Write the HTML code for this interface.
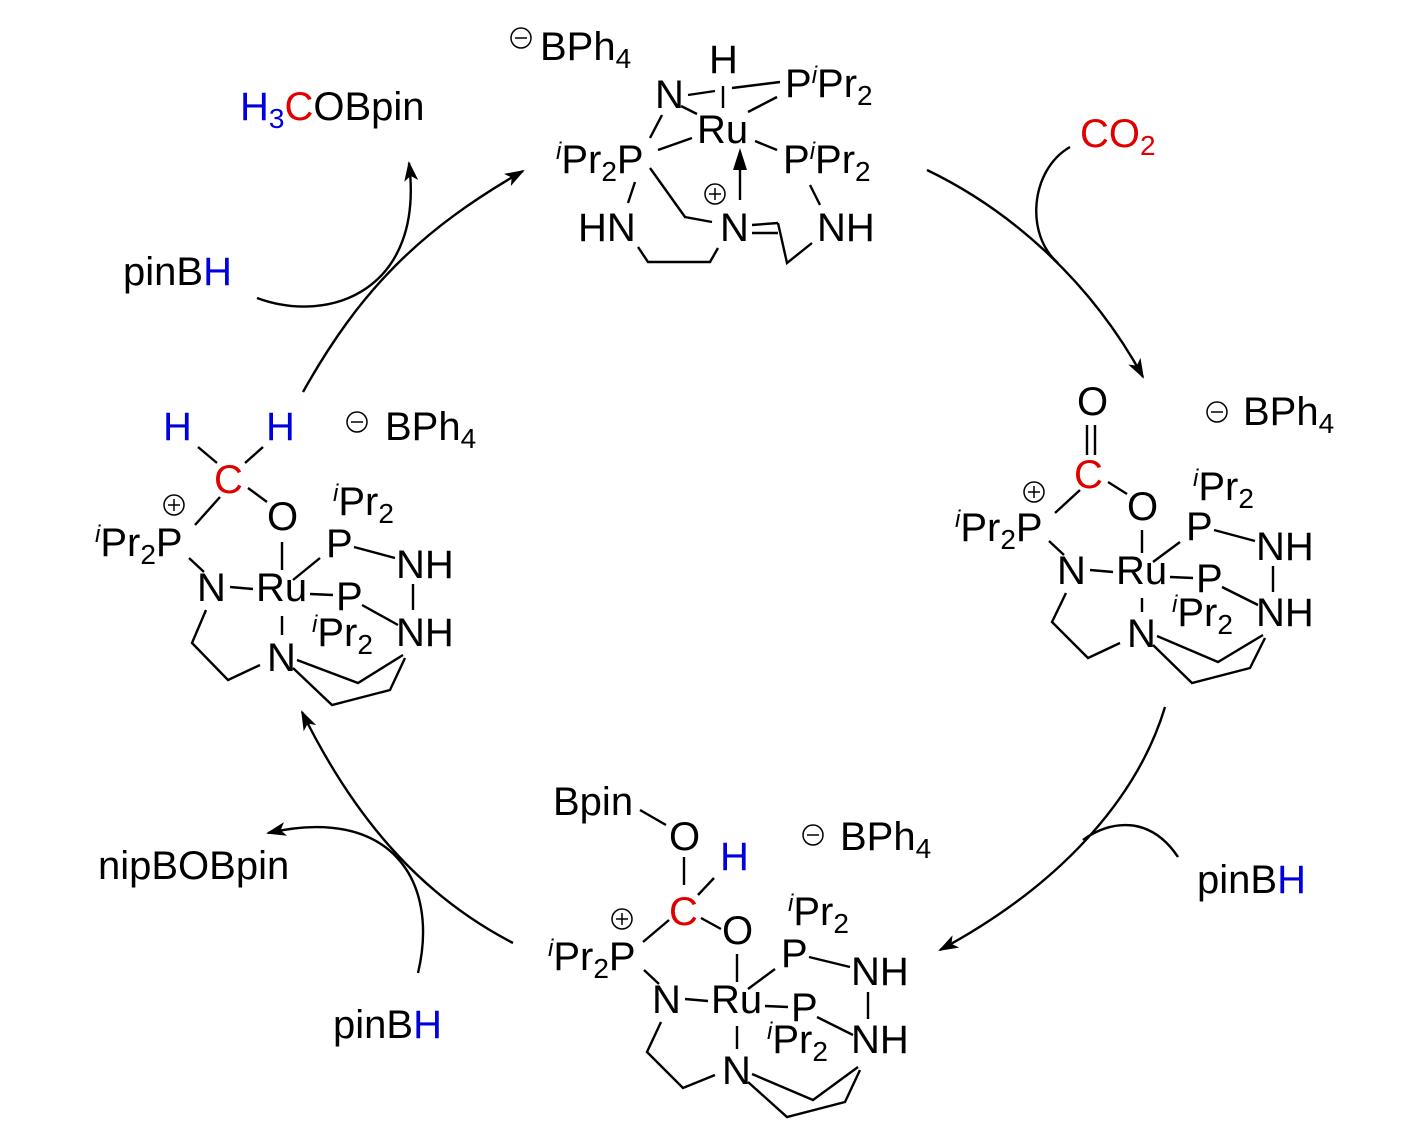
<!DOCTYPE html>
<html><head><meta charset="utf-8"><style>
html,body{margin:0;padding:0;background:#fff;}
svg{display:block;}
text{font-family:"Liberation Sans",Arial,sans-serif;font-size:40px;fill:#000;}
.s{font-size:28px;}
.i{font-size:24px;font-style:italic;}
.r{fill:#e00000;}
.b{fill:#0000dd;}
</style></head><body>
<svg width="1417" height="1134" viewBox="0 0 1417 1134" xmlns="http://www.w3.org/2000/svg">
<defs>
<marker id="ah" viewBox="0 0 20 14" refX="18" refY="7" markerWidth="20" markerHeight="14" markerUnits="userSpaceOnUse" orient="auto">
<path d="M0,0 L20,7 L0,14 L5,7 Z" fill="#000"/>
</marker>
</defs>
<g fill="none" stroke="#000" stroke-width="2.4">
<path d="M927,170 C1010,210 1090,280 1143,377" marker-end="url(#ah)"/>
<path d="M1070,147 C1030,170 1025,235 1058,263"/>
<path d="M1165,707 C1140,790 1070,880 940,950" marker-end="url(#ah)"/>
<path d="M1178,857 C1150,815 1110,820 1083,840"/>
<path d="M513,943 C430,900 360,830 302,712" marker-end="url(#ah)"/>
<path d="M418,973 C440,880 390,805 268,833" marker-end="url(#ah)"/>
<path d="M303,392 C360,290 420,230 523,171" marker-end="url(#ah)"/>
<path d="M257,298 C330,325 425,290 409,163" marker-end="url(#ah)"/>
</g>

<text x="1080" y="147" class="r">CO<tspan class="s r" dy="8">2</tspan></text>
<text x="1197" y="893">pinB<tspan class="b">H</tspan></text>
<text x="333" y="1038">pinB<tspan class="b">H</tspan></text>
<text x="98" y="879">nipBOBpin</text>
<text x="123" y="285">pinB<tspan class="b">H</tspan></text>
<text x="240" y="120"><tspan class="b">H</tspan><tspan class="s b" dy="8">3</tspan><tspan class="r" dy="-8">C</tspan>OBpin</text>

<!-- TOP COMPLEX -->
<circle cx="521" cy="38" r="10" fill="none" stroke="#000" stroke-width="1.5"/>
<line x1="515" y1="38" x2="527" y2="38" stroke="#000" stroke-width="1.5"/>
<text x="540" y="60">BPh<tspan class="s" dy="8">4</tspan></text>
<text x="709" y="73">H</text>
<text x="655" y="108">N</text>
<text x="785" y="97">P<tspan class="i" dy="-14">i</tspan><tspan dy="14">Pr</tspan><tspan class="s" dy="8">2</tspan></text>
<text x="697" y="143">Ru</text>
<text x="556" y="173"><tspan class="i" dy="-14">i</tspan><tspan dy="14">Pr</tspan><tspan class="s" dy="8">2</tspan><tspan dy="-8">P</tspan></text>
<text x="783" y="173">P<tspan class="i" dy="-14">i</tspan><tspan dy="14">Pr</tspan><tspan class="s" dy="8">2</tspan></text>
<text x="578" y="241">HN</text>
<text x="720" y="241">N</text>
<text x="817" y="241">NH</text>
<circle cx="715" cy="194" r="10" fill="none" stroke="#000" stroke-width="1.5"/>
<line x1="709" y1="194" x2="721" y2="194" stroke="#000" stroke-width="1.5"/>
<line x1="715" y1="188" x2="715" y2="200" stroke="#000" stroke-width="1.5"/>
<g fill="none" stroke="#000" stroke-width="2.4">
<line x1="688" y1="95" x2="715" y2="91"/>
<line x1="723" y1="86" x2="723" y2="108"/>
<line x1="732" y1="88" x2="780" y2="82"/>
<line x1="681" y1="106" x2="697" y2="114"/>
<line x1="748" y1="112" x2="777" y2="97"/>
<line x1="662" y1="115" x2="650" y2="138"/>
<line x1="658" y1="150" x2="692" y2="138"/>
<line x1="755" y1="141" x2="777" y2="150"/>
<line x1="635" y1="182" x2="628" y2="203"/>
<polyline points="650,168 685,217 712,222"/>
<line x1="740" y1="200" x2="740" y2="165"/>
<line x1="810" y1="185" x2="820" y2="205"/>
<polyline points="638,247 648,262 710,262 718,248"/>
<line x1="752" y1="225" x2="778" y2="223"/>
<line x1="752" y1="233" x2="778" y2="233"/>
<polyline points="778,223 787,263 812,243"/>
</g>
<path d="M740,148 L747,170 L733,170 Z" fill="#000"/>

<!-- RIGHT COMPLEX -->
<circle cx="1217" cy="412" r="10" fill="none" stroke="#000" stroke-width="1.5"/>
<line x1="1211" y1="412" x2="1223" y2="412" stroke="#000" stroke-width="1.5"/>
<text x="1243" y="425">BPh<tspan class="s" dy="8">4</tspan></text>
<text x="1077" y="415">O</text>
<g stroke="#000" stroke-width="2.4">
<line x1="1087" y1="425" x2="1087" y2="455"/>
<line x1="1095" y1="425" x2="1095" y2="455"/>
</g>
<text x="1074" y="488" class="r">C</text>
<circle cx="1034" cy="492" r="10" fill="none" stroke="#000" stroke-width="1.5"/>
<line x1="1028" y1="492" x2="1040" y2="492" stroke="#000" stroke-width="1.5"/>
<line x1="1034" y1="486" x2="1034" y2="498" stroke="#000" stroke-width="1.5"/>
<text x="955" y="541"><tspan class="i" dy="-14">i</tspan><tspan dy="14">Pr</tspan><tspan class="s" dy="8">2</tspan><tspan dy="-8">P</tspan></text>
<text x="1127" y="520">O</text>
<text x="1193" y="500"><tspan class="i" dy="-14">i</tspan><tspan dy="14">Pr</tspan><tspan class="s" dy="8">2</tspan></text>
<text x="1186" y="540">P</text>
<text x="1256" y="560">NH</text>
<text x="1057" y="584">N</text>
<text x="1116" y="584">Ru</text>
<text x="1196" y="592">P</text>
<text x="1172" y="626"><tspan class="i" dy="-14">i</tspan><tspan dy="14">Pr</tspan><tspan class="s" dy="8">2</tspan></text>
<text x="1256" y="626">NH</text>
<text x="1127" y="647">N</text>
<g fill="none" stroke="#000" stroke-width="2.4">
<line x1="1055" y1="513" x2="1080" y2="490"/>
<line x1="1108" y1="482" x2="1127" y2="494"/>
<line x1="1142" y1="530" x2="1142" y2="553"/>
<line x1="1049" y1="541" x2="1064" y2="555"/>
<line x1="1090" y1="570" x2="1113" y2="572"/>
<line x1="1153" y1="562" x2="1180" y2="542"/>
<line x1="1214" y1="530" x2="1255" y2="541"/>
<line x1="1273" y1="566" x2="1273" y2="592"/>
<line x1="1170" y1="577" x2="1193" y2="578"/>
<line x1="1222" y1="587" x2="1258" y2="605"/>
<line x1="1142" y1="598" x2="1142" y2="612"/>
<polyline points="1066,593 1052,622 1088,658 1120,643"/>
<polyline points="1157,636 1218,662 1263,635"/>
<polyline points="1153,645 1192,683 1250,668 1265,638"/>
</g>

<!-- LEFT COMPLEX -->
<circle cx="357" cy="422" r="10" fill="none" stroke="#000" stroke-width="1.5"/>
<line x1="351" y1="422" x2="363" y2="422" stroke="#000" stroke-width="1.5"/>
<text x="385" y="440">BPh<tspan class="s" dy="8">4</tspan></text>
<text x="163" y="440" class="b">H</text>
<text x="266" y="440" class="b">H</text>
<g stroke="#000" stroke-width="2.4">
<line x1="198" y1="447" x2="217" y2="463"/>
<line x1="263" y1="447" x2="245" y2="463"/>
</g>
<g transform="translate(-860,10)">
<text x="1074" y="483" class="r">C</text>
<circle cx="1034" cy="495" r="10" fill="none" stroke="#000" stroke-width="1.5"/>
<line x1="1028" y1="495" x2="1040" y2="495" stroke="#000" stroke-width="1.5"/>
<line x1="1034" y1="489" x2="1034" y2="501" stroke="#000" stroke-width="1.5"/>
<text x="955" y="546"><tspan class="i" dy="-14">i</tspan><tspan dy="14">Pr</tspan><tspan class="s" dy="8">2</tspan><tspan dy="-8">P</tspan></text>
<text x="1127" y="520">O</text>
<text x="1193" y="505"><tspan class="i" dy="-14">i</tspan><tspan dy="14">Pr</tspan><tspan class="s" dy="8">2</tspan></text>
<text x="1186" y="547">P</text>
<text x="1256" y="568">NH</text>
<text x="1057" y="591">N</text>
<text x="1116" y="591">Ru</text>
<text x="1196" y="600">P</text>
<text x="1172" y="636"><tspan class="i" dy="-14">i</tspan><tspan dy="14">Pr</tspan><tspan class="s" dy="8">2</tspan></text>
<text x="1256" y="636">NH</text>
<text x="1127" y="661">N</text>
<g fill="none" stroke="#000" stroke-width="2.4">
<line x1="1055" y1="515" x2="1080" y2="487"/>
<line x1="1108" y1="478" x2="1127" y2="492"/>
<line x1="1142" y1="532" x2="1142" y2="560"/>
<line x1="1049" y1="548" x2="1064" y2="562"/>
<line x1="1090" y1="577" x2="1113" y2="579"/>
<line x1="1153" y1="570" x2="1180" y2="548"/>
<line x1="1214" y1="537" x2="1255" y2="548"/>
<line x1="1273" y1="574" x2="1273" y2="600"/>
<line x1="1170" y1="584" x2="1193" y2="585"/>
<line x1="1222" y1="595" x2="1258" y2="615"/>
<line x1="1142" y1="606" x2="1142" y2="625"/>
<polyline points="1066,600 1052,633 1088,670 1120,655"/>
<polyline points="1157,650 1218,673 1263,645"/>
<polyline points="1153,658 1192,695 1250,680 1265,648"/>
</g>
</g>

<!-- BOTTOM COMPLEX -->
<circle cx="813" cy="835" r="10" fill="none" stroke="#000" stroke-width="1.5"/>
<line x1="807" y1="835" x2="819" y2="835" stroke="#000" stroke-width="1.5"/>
<text x="840" y="850">BPh<tspan class="s" dy="8">4</tspan></text>
<text x="553" y="815">Bpin</text>
<text x="669" y="850">O</text>
<text x="720" y="870" class="b">H</text>
<g stroke="#000" stroke-width="2.4">
<line x1="640" y1="810" x2="666" y2="825"/>
<line x1="684" y1="857" x2="684" y2="885"/>
<line x1="698" y1="895" x2="714" y2="878"/>
</g>
<g transform="translate(-405,432)">
<text x="1074" y="493" class="r">C</text>
<circle cx="1027" cy="487" r="10" fill="none" stroke="#000" stroke-width="1.5"/>
<line x1="1021" y1="487" x2="1033" y2="487" stroke="#000" stroke-width="1.5"/>
<line x1="1027" y1="481" x2="1027" y2="493" stroke="#000" stroke-width="1.5"/>
<text x="953" y="538"><tspan class="i" dy="-14">i</tspan><tspan dy="14">Pr</tspan><tspan class="s" dy="8">2</tspan><tspan dy="-8">P</tspan></text>
<text x="1127" y="512">O</text>
<text x="1193" y="493"><tspan class="i" dy="-14">i</tspan><tspan dy="14">Pr</tspan><tspan class="s" dy="8">2</tspan></text>
<text x="1186" y="535">P</text>
<text x="1256" y="553">NH</text>
<text x="1057" y="581">N</text>
<text x="1116" y="581">Ru</text>
<text x="1196" y="589">P</text>
<text x="1172" y="621"><tspan class="i" dy="-14">i</tspan><tspan dy="14">Pr</tspan><tspan class="s" dy="8">2</tspan></text>
<text x="1256" y="621">NH</text>
<text x="1127" y="652">N</text>
<g fill="none" stroke="#000" stroke-width="2.4">
<line x1="1048" y1="510" x2="1074" y2="488"/>
<line x1="1106" y1="486" x2="1126" y2="497"/>
<line x1="1142" y1="522" x2="1142" y2="550"/>
<line x1="1049" y1="538" x2="1064" y2="552"/>
<line x1="1090" y1="567" x2="1113" y2="569"/>
<line x1="1153" y1="557" x2="1180" y2="537"/>
<line x1="1214" y1="525" x2="1255" y2="535"/>
<line x1="1273" y1="560" x2="1273" y2="587"/>
<line x1="1170" y1="574" x2="1193" y2="575"/>
<line x1="1222" y1="585" x2="1258" y2="603"/>
<line x1="1142" y1="594" x2="1142" y2="617"/>
<polyline points="1066,590 1052,620 1088,656 1120,643"/>
<polyline points="1157,642 1218,668 1263,635"/>
<polyline points="1153,650 1192,685 1250,670 1265,638"/>
</g>
</g>
</svg>
</body></html>
